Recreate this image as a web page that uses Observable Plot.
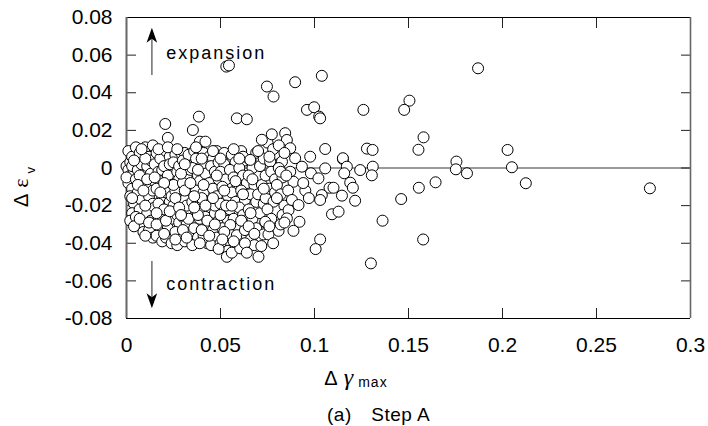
<!DOCTYPE html>
<html><head><meta charset="utf-8">
<script src="https://cdn.jsdelivr.net/npm/d3@7"></script>
<script src="https://cdn.jsdelivr.net/npm/@observablehq/plot@0.6"></script>
<style>
body{margin:0;background:#fff;}
#cap{width:708px;height:28px;position:relative;font:19px "Liberation Sans",Arial,sans-serif;color:#000;}
#cap span{position:absolute;left:327px;top:4px;letter-spacing:0.5px;}
</style></head><body>
<div id="chart"></div>
<div id="cap"><span>(a)　Step A</span></div>
<script>
// Δγmax , Δεv pairs — dense cluster
const clusterPoints = [
[0.000,0.001],[0.001,-0.001],[0.002,0.003],[0.001,0.009],[0.003,0.006],[0.002,-0.004],[0.001,-0.008],[0.003,-0.011],[0.002,-0.015],[0.004,-0.019],[0.003,-0.024],[0.002,-0.028],[0.004,-0.002],[0.003,0.001],[0.000,-0.005],
[0.005,0.011],[0.006,0.004],[0.007,0.008],[0.005,-0.006],[0.006,-0.013],[0.008,-0.017],[0.007,-0.022],[0.005,-0.026],[0.008,-0.030],[0.009,-0.034],[0.006,-0.001],[0.008,0.002],[0.009,-0.008],[0.007,-0.004],
[0.010,0.011],[0.012,0.006],[0.011,0.001],[0.013,-0.003],[0.010,-0.010],[0.012,-0.015],[0.014,-0.019],[0.011,-0.024],[0.013,-0.028],[0.012,-0.033],[0.014,-0.037],[0.014,0.012],[0.013,0.004],[0.011,-0.006],[0.014,-0.012],
[0.016,0.008],[0.015,0.002],[0.017,-0.002],[0.018,-0.007],[0.016,-0.011],[0.019,-0.016],[0.015,-0.021],[0.017,-0.026],[0.018,-0.031],[0.016,-0.036],[0.019,-0.039],[0.018,0.005],[0.019,-0.001],[0.017,-0.019],[0.019,-0.024],
[0.0206,0.0234],[0.022,0.016],[0.021,0.009],[0.023,0.006],[0.020,0.001],[0.022,-0.004],[0.024,-0.009],[0.021,-0.013],[0.023,-0.018],[0.020,-0.022],[0.024,-0.027],[0.022,-0.032],[0.021,-0.037],[0.024,-0.040],[0.023,0.002],[0.024,-0.015],
[0.026,0.007],[0.025,0.003],[0.027,-0.002],[0.028,-0.006],[0.026,-0.012],[0.029,-0.017],[0.025,-0.020],[0.027,-0.025],[0.028,-0.029],[0.026,-0.034],[0.029,-0.038],[0.027,-0.041],[0.029,0.008],[0.028,0.001],[0.025,-0.009],
[0.031,0.008],[0.030,0.004],[0.033,0.001],[0.032,-0.004],[0.030,-0.008],[0.034,-0.013],[0.031,-0.017],[0.033,-0.022],[0.030,-0.026],[0.032,-0.030],[0.034,-0.035],[0.031,-0.039],[0.033,0.007],[0.034,-0.001],[0.032,-0.020],
[0.0353,0.0202],[0.0385,0.0273],[0.039,0.014],[0.036,0.009],[0.037,0.005],[0.035,0.000],[0.038,-0.004],[0.036,-0.009],[0.039,-0.014],[0.035,-0.018],[0.037,-0.023],[0.039,-0.027],[0.036,-0.032],[0.038,-0.037],[0.035,-0.041],[0.039,-0.007],[0.037,-0.012],
[0.042,0.014],[0.041,0.008],[0.043,0.004],[0.040,0.001],[0.042,-0.003],[0.044,-0.008],[0.041,-0.013],[0.043,-0.018],[0.040,-0.022],[0.042,-0.026],[0.044,-0.031],[0.041,-0.036],[0.043,-0.040],[0.044,0.006],[0.040,-0.016],
[0.048,0.009],[0.046,0.005],[0.045,0.001],[0.047,-0.002],[0.049,-0.006],[0.046,-0.011],[0.048,-0.015],[0.045,-0.019],[0.047,-0.024],[0.049,-0.028],[0.046,-0.033],[0.048,-0.037],[0.045,-0.041],[0.049,0.003],[0.047,-0.020],
[0.051,0.006],[0.052,0.002],[0.050,-0.002],[0.053,-0.006],[0.051,-0.010],[0.054,-0.015],[0.050,-0.019],[0.052,-0.023],[0.054,-0.028],[0.051,-0.032],[0.053,-0.036],[0.050,-0.040],[0.054,-0.044],[0.0534,-0.0472],[0.052,0.008],
[0.0587,0.0264],[0.056,0.007],[0.058,0.003],[0.055,-0.001],[0.057,-0.005],[0.059,-0.009],[0.056,-0.013],[0.058,-0.018],[0.055,-0.022],[0.057,-0.027],[0.059,-0.031],[0.0552,-0.0303],[0.0561,-0.0357],[0.0587,-0.0357],[0.058,-0.041],[0.056,-0.045],
[0.064,0.0259],[0.061,0.009],[0.063,0.004],[0.060,0.000],[0.062,-0.004],[0.064,-0.008],[0.061,-0.012],[0.063,-0.017],[0.060,-0.021],[0.062,-0.025],[0.064,-0.0277],[0.0614,-0.0427],[0.064,-0.036],[0.0605,-0.0427],[0.063,-0.033],[0.062,0.006],
[0.066,0.004],[0.069,0.0081],[0.067,0.000],[0.065,-0.004],[0.068,-0.009],[0.066,-0.014],[0.069,-0.018],[0.065,-0.022],[0.067,-0.027],[0.069,-0.032],[0.066,-0.038],[0.068,-0.041],[0.0658,0.0043],
[0.0702,-0.0472],[0.0717,-0.0415],[0.0729,-0.0353],[0.074,-0.029],[0.071,-0.024],[0.073,-0.019],[0.070,-0.014],[0.072,-0.009],[0.074,-0.004],[0.071,0.001],[0.073,0.005],[0.070,0.009],[0.075,0.0135],[0.074,-0.016],
[0.0773,0.0179],[0.0791,0.0075],[0.0764,0.0034],[0.077,-0.002],[0.079,-0.006],[0.076,-0.011],[0.0782,-0.0179],[0.075,-0.022],[0.077,-0.027],[0.0755,-0.0353],[0.0738,-0.0286],[0.079,-0.013],
[0.0844,0.0185],[0.0827,0.0034],[0.081,0.000],[0.083,-0.005],[0.080,-0.009],[0.082,-0.014],[0.084,-0.020],[0.0809,-0.0334],[0.083,-0.025],[0.082,-0.030],
[0.0853,0.0149],[0.0871,0.0105],[0.0897,0.0052],[0.0871,-0.002],[0.0888,-0.0073],[0.0862,-0.0224],[0.0853,-0.0268],[0.0888,-0.0334],[0.086,-0.012],[0.088,-0.017],
[0.0977,0.006],[0.0933,0.0007],[0.0981,-0.0028],[0.0951,-0.012],[0.0915,-0.0197],[0.092,-0.0286],[0.094,-0.008],[0.097,-0.016],
[0.004,0.004],[0.006,-0.009],[0.003,-0.016],[0.009,-0.012],[0.010,-0.020],[0.004,-0.031],[0.007,-0.027],[0.010,0.005],[0.008,0.010],[0.012,-0.029],[0.010,-0.036],
[0.015,-0.005],[0.017,0.010],[0.020,-0.008],[0.016,-0.030],[0.021,-0.028],[0.018,-0.013],[0.023,-0.023],[0.020,-0.035],[0.016,-0.024],[0.022,0.011],
[0.027,0.010],[0.029,-0.003],[0.026,-0.016],[0.031,-0.012],[0.028,-0.021],[0.030,-0.033],[0.033,-0.027],[0.032,-0.037],[0.026,-0.038],[0.031,0.002],[0.034,-0.008],[0.029,-0.025],
[0.037,0.011],[0.040,0.005],[0.038,-0.001],[0.041,-0.009],[0.036,-0.015],[0.042,-0.020],[0.038,-0.025],[0.043,-0.028],[0.040,-0.033],[0.039,-0.040],[0.044,-0.036],[0.036,-0.021],
[0.046,0.009],[0.050,0.005],[0.048,-0.004],[0.052,-0.012],[0.046,-0.016],[0.050,-0.025],[0.047,-0.030],[0.052,-0.034],[0.049,-0.043],[0.053,-0.020],[0.051,-0.038],
[0.057,0.010],[0.060,0.005],[0.058,-0.007],[0.062,-0.014],[0.056,-0.020],[0.061,-0.028],[0.065,-0.031],[0.057,-0.039],[0.063,-0.040],[0.067,-0.006],[0.066,-0.024],[0.068,-0.035],[0.064,-0.045],
[0.072,0.015],[0.078,0.010],[0.076,0.006],[0.080,-0.016],[0.073,-0.011],[0.076,-0.031],[0.078,-0.040],[0.081,0.012],[0.084,0.008],[0.082,-0.002],[0.085,-0.004],[0.084,-0.029]
];
// sparse points away from the cluster
const scatteredPoints = [
[0.0531,0.0539],[0.0545,0.0545],[0.0747,0.0433],[0.0782,0.038],[0.0897,0.0456],[0.1039,0.049],[0.096,0.0309],[0.0998,0.0323],[0.1025,0.0273],[0.103,0.0264],
[0.1057,0.0101],[0.1057,-0.0002],[0.1021,-0.0055],[0.108,-0.0105],[0.1039,-0.0144],[0.103,-0.017],[0.103,-0.038],[0.1006,-0.0431],[0.1101,-0.0105],[0.1093,-0.0246],
[0.126,0.0309],[0.1505,0.0358],[0.1477,0.0309],[0.158,0.0163],[0.1553,0.0097],[0.1279,0.0103],[0.1309,0.0096],[0.1151,0.0048],[0.1151,0.0052],
[0.1172,0.0007],[0.1158,-0.0028],[0.1243,-0.0011],[0.131,0.0007],[0.1305,-0.0039],[0.119,-0.0078],[0.1204,-0.0105],[0.1146,-0.0147],[0.1216,-0.0174],[0.1128,-0.0232],
[0.1644,-0.0076],[0.1555,-0.0105],[0.1461,-0.0165],[0.1362,-0.028],[0.1578,-0.038],[0.130,-0.0507],
[0.1755,0.0034],[0.1752,-0.0007],[0.1811,-0.0028],[0.187,0.053],[0.2027,0.0096],[0.205,0.0004],[0.2124,-0.0081],[0.2784,-0.0108]
];
const xTicks = [0, 0.05, 0.1, 0.15, 0.2, 0.25, 0.3];
const xTickLabels = ["0", "0.05", "0.1", "0.15", "0.2", "0.25", "0.3"];
const yTicks = [-0.08, -0.06, -0.04, -0.02, 0, 0.02, 0.04, 0.06, 0.08];
const yTickLabels = ["-0.08", "-0.06", "-0.04", "-0.02", "0", "0.02", "0.04", "0.06", "0.08"];
const notes = [
  {label: "expansion", x: 0.0211, y: 0.0611},
  {label: "contraction", x: 0.0211, y: -0.0618}
];
const arrows = [
  {x: 0.0135, from: 0.0495, to: 0.0686, tip: 0.0745, dir: "up"},
  {x: 0.0135, from: -0.0495, to: -0.0686, tip: -0.0745, dir: "down"}
];

const headUp = {draw(ctx){ ctx.moveTo(0,0); ctx.lineTo(5.3,15); ctx.lineTo(0,11); ctx.lineTo(-5.3,15); ctx.closePath(); }};
const headDown = {draw(ctx){ ctx.moveTo(0,0); ctx.lineTo(5.3,-15); ctx.lineTo(0,-11); ctx.lineTo(-5.3,-15); ctx.closePath(); }};

const allPoints = clusterPoints.concat(scatteredPoints);
const fmtX = d => xTickLabels[xTicks.indexOf(d)];
const fmtY = d => yTickLabels[yTicks.indexOf(d)];

const chart = Plot.plot({
  width: 708, height: 398,
  marginLeft: 126, marginRight: 18, marginTop: 17, marginBottom: 80,
  style: {fontFamily: '"Liberation Sans", Arial, sans-serif', fontSize: "21px", background: "white", color: "black"},
  x: {domain: [0, 0.3]},
  y: {domain: [-0.08, 0.08]},
  marks: [
    Plot.ruleY([0], {stroke: "#7a7a7a", strokeWidth: 1.3}),
    Plot.axisX(xTicks, {anchor: "bottom", tickSize: 0, tickPadding: 19, tickFormat: fmtX, label: null}),
    Plot.axisY(yTicks, {anchor: "left", tickSize: 0, tickPadding: 14, tickFormat: fmtY, label: null}),
    Plot.axisX(xTicks.slice(1, -1), {anchor: "bottom", tickSize: -10, tickFormat: () => "", label: null, stroke: "#222"}),
    Plot.axisX(xTicks.slice(1, -1), {anchor: "top", tickSize: -10, tickFormat: () => "", label: null, stroke: "#222"}),
    Plot.axisY(yTicks.slice(1, -1), {anchor: "left", tickSize: -10, tickFormat: () => "", label: null, stroke: "#222"}),
    Plot.axisY(yTicks.slice(1, -1), {anchor: "right", tickSize: -10, tickFormat: () => "", label: null, stroke: "#222"}),
    Plot.ruleY([-0.08, 0.08], {stroke: "black", strokeWidth: 1.2}),
    Plot.ruleX([0], {stroke: "#666", strokeWidth: 2}),
    Plot.ruleX([0.3], {stroke: "#666", strokeWidth: 1.6}),
    Plot.link(arrows, {x1: "x", x2: "x", y1: "from", y2: "to", stroke: "#777", strokeWidth: 1.6}),
    Plot.dot(arrows.filter(a => a.dir === "up"), {x: "x", y: "tip", r: 5, symbol: headUp, fill: "black", stroke: "none"}),
    Plot.dot(arrows.filter(a => a.dir === "down"), {x: "x", y: "tip", r: 5, symbol: headDown, fill: "black", stroke: "none"}),
    Plot.text(notes, {x: "x", y: "y", text: "label", textAnchor: "start", fontSize: 18, fill: "black"}),
    Plot.dot(allPoints, {x: d => d[0], y: d => d[1], r: 5.5, fill: "white", stroke: "black", strokeWidth: 1, clip: false})
  ]
});
document.getElementById("chart").appendChild(chart);

const svg = d3.select(chart);
svg.selectAll("text").filter(function(){ return this.textContent === "expansion" || this.textContent === "contraction"; }).attr("letter-spacing", "2px");
// x-axis title Δγmax
const xt = svg.append("text").attr("x", 356).attr("y", 385).attr("fill", "black")
  .attr("font-family", '"Liberation Sans", Arial, sans-serif').attr("font-size", 20);
xt.append("tspan").text("Δ");
xt.append("tspan").attr("dx", 6).attr("font-family", '"Liberation Serif", serif').attr("font-style", "italic").attr("font-size", 24).text("γ");
xt.append("tspan").attr("dx", 5).attr("dy", 2).attr("font-size", 14).attr("letter-spacing", "1px").text("max");
// y-axis title Δεv
const yt = svg.append("text").attr("transform", "translate(28,187) rotate(-90)").attr("fill", "black")
  .attr("font-family", '"Liberation Sans", Arial, sans-serif').attr("font-size", 20);
yt.append("tspan").text("Δ");
yt.append("tspan").attr("dx", 6).attr("font-family", '"Liberation Serif", serif').attr("font-size", 22).text("ε");
yt.append("tspan").attr("dx", 5).attr("dy", 7).attr("font-size", 13).text("v");
</script>
</body></html>
